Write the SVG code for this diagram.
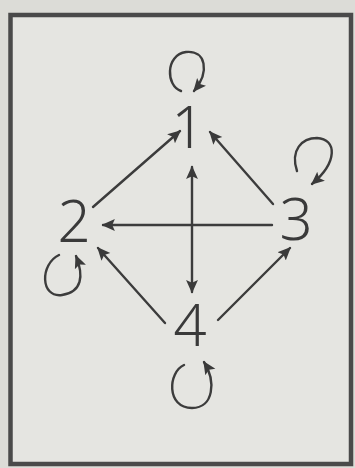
<svg xmlns="http://www.w3.org/2000/svg" width="355" height="468" viewBox="0 0 355 468">
<defs>
<marker id="ah" viewBox="0 0 10 10" refX="9" refY="5" markerWidth="5.5" markerHeight="5.5" orient="auto-start-reverse" markerUnits="strokeWidth">
<path d="M0,0.5 L10,5 L0,9.5 L2,5 Z" fill="#3a3a3a"/>
</marker>
<style>
.e{stroke:#3c3c3c;stroke-width:2.4;fill:none;stroke-linecap:round}
.l{stroke:#3c3c3c;stroke-width:2.4;fill:none;stroke-linecap:round}
.t{font-family:"Noto Sans","DejaVu Sans",sans-serif;font-size:58px;font-weight:300;fill:#3a3a3a;text-anchor:middle}
</style>
</defs>
<rect x="0" y="0" width="355" height="468" fill="#dcdcd7"/>
<rect x="10.5" y="15" width="340.5" height="449" fill="#e5e5e1" stroke="#4a4a4a" stroke-width="4.5"/>
<g id="connectors">
<line class="e" x1="93" y1="207" x2="180" y2="131" marker-end="url(#ah)"/>
<line class="e" x1="273" y1="204" x2="210" y2="132" marker-end="url(#ah)"/>
<line class="e" x1="272" y1="225" x2="103" y2="225" marker-end="url(#ah)"/>
<line class="e" x1="192" y1="167" x2="192" y2="292" marker-start="url(#ah)" marker-end="url(#ah)"/>
<line class="e" x1="165" y1="323" x2="98" y2="248" marker-end="url(#ah)"/>
<line class="e" x1="218" y1="320" x2="290" y2="248" marker-end="url(#ah)"/>
<path class="l" d="M181,91 C166,86 165,55 186,52 C206,50 210,72 194,91" marker-end="url(#ah)"/>
<path class="l" d="M59,255 C40,264 40,298 62,295 C82,292 84,276 76,256" marker-end="url(#ah)"/>
<path class="l" d="M297,171 C290,150 302,138 317,138 C337,139 338,162 312,184" marker-end="url(#ah)"/>
<path class="l" d="M184,365 C168,372 166,408 192,408 C214,408 216,381 204,362" marker-end="url(#ah)"/>
</g>
<g id="n1"><text class="t" x="188" y="148">1</text></g>
<g id="n2"><text class="t" x="74" y="242">2</text></g>
<g id="n3"><text class="t" x="296" y="240">3</text></g>
<g id="n4"><text class="t" x="190" y="346">4</text></g>
</svg>
